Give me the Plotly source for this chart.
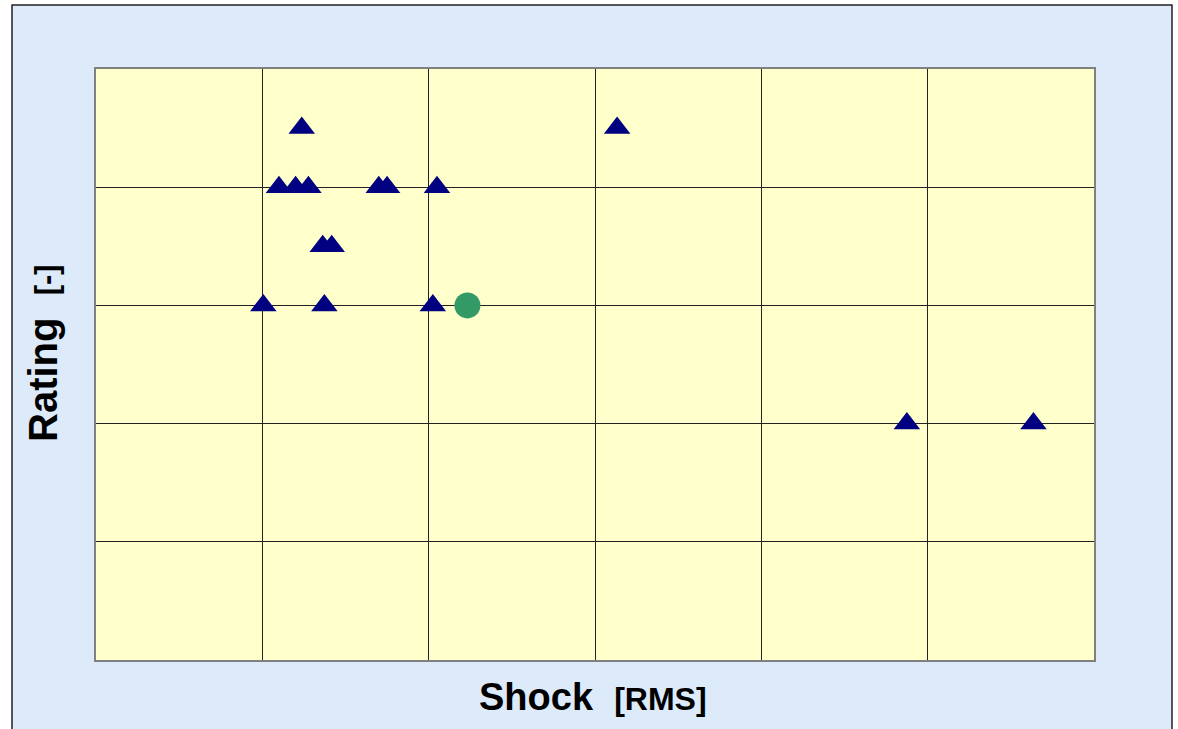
import plotly.graph_objects as go

# Data
tri_x = [1.006, 1.10, 1.20, 1.237, 1.277, 1.363, 1.373, 1.417, 1.70, 1.75, 2.025, 2.05, 3.133, 4.875, 5.636]
tri_y = [3.0, 4.0, 4.0, 4.5, 4.0, 3.5, 3.0, 3.5, 4.0, 4.0, 3.0, 4.0, 4.5, 2.0, 2.0]
circ_x = [2.233]
circ_y = [3.0]

x_title = "Shock"
x_unit = "[RMS]"
y_title = "Rating"
y_unit = "[-]"

W, H = 1178, 729
ml, mr, mt, mb = 96, 84, 69, 69
pw, ph = W - ml - mr, H - mt - mb

def px_x(p):
    return (p - ml) / pw

def px_y(p):
    return (H - mb - p) / ph

fig = go.Figure()
fig.add_trace(go.Scatter(
    x=tri_x, y=tri_y, mode="markers",
    marker=dict(symbol="triangle-up", size=23, color="#000080", line=dict(width=0)),
    showlegend=False, hoverinfo="x+y"))
fig.add_trace(go.Scatter(
    x=circ_x, y=circ_y, mode="markers",
    marker=dict(symbol="circle", size=26, color="#339966", line=dict(width=0)),
    showlegend=False, hoverinfo="x+y"))

shapes = [
    dict(type="rect", xref="paper", yref="paper", layer="below",
         x0=px_x(12), x1=px_x(1172), y0=px_y(745), y1=px_y(5),
         fillcolor="#DCEAF9", line=dict(color="#222222", width=1.5)),
    dict(type="rect", xref="paper", yref="paper", layer="below",
         x0=0, x1=1, y0=0, y1=1,
         fillcolor="#FFFFCC", line=dict(width=0)),
]

annotations = [
    dict(xref="paper", yref="paper", x=px_x(593), y=px_y(697), xanchor="center", yanchor="middle",
         showarrow=False,
         text="<b>" + x_title + "</b>\u00a0\u00a0<b><span style='font-size:32px'>" + x_unit + "</span></b>",
         font=dict(family="Liberation Sans, Arial, sans-serif", size=38, color="#000000")),
    dict(xref="paper", yref="paper", x=px_x(43), y=px_y(353), xanchor="center", yanchor="middle",
         showarrow=False, textangle=-90,
         text="<b>" + y_title + "</b>\u00a0\u00a0<b><span style='font-size:31px'>" + y_unit + "</span></b>",
         font=dict(family="Liberation Sans, Arial, sans-serif", size=40, color="#000000")),
]

fig.update_layout(
    width=W, height=H,
    margin=dict(l=ml, r=mr, t=mt, b=mb, pad=0),
    paper_bgcolor="#FFFFFF",
    plot_bgcolor="#FFFFCC",
    shapes=shapes,
    annotations=annotations,
    xaxis=dict(range=[0, 6], dtick=1, tick0=0, showticklabels=False, ticks="",
               showgrid=True, gridcolor="#222222", gridwidth=1, zeroline=False,
               showline=True, linecolor="#808080", linewidth=2, mirror=True,
               fixedrange=True),
    yaxis=dict(range=[0, 5], dtick=1, tick0=0, showticklabels=False, ticks="",
               showgrid=True, gridcolor="#222222", gridwidth=1, zeroline=False,
               showline=True, linecolor="#808080", linewidth=2, mirror=True,
               fixedrange=True),
)

fig.write_html(
    "out.html", include_plotlyjs=True, config={"displayModeBar": False},
    post_script="document.body.style.margin='0';document.body.style.overflow='hidden';document.documentElement.style.overflow='hidden';")
